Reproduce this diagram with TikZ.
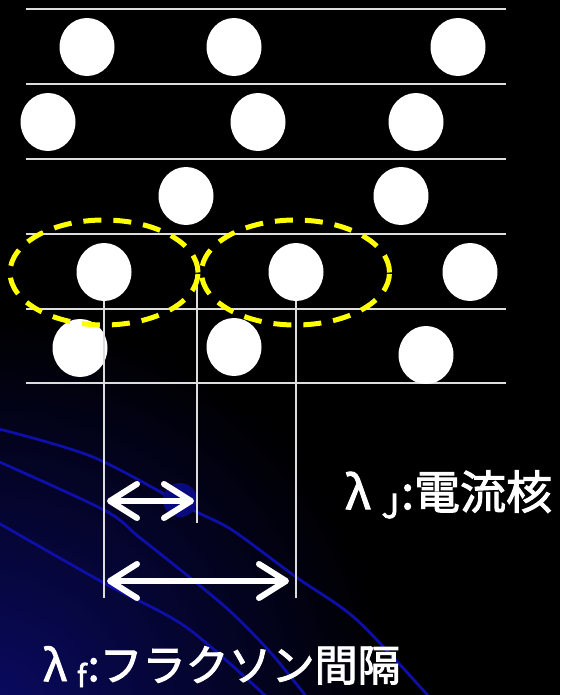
\documentclass[tikz,border=0pt]{standalone}
\usepackage{fontspec}
\usetikzlibrary{shapes.geometric,arrows.meta}
\newfontfamily\cjk{Noto Sans CJK JP}[RawFeature={embolden=2.2}]
\definecolor{curveblue}{HTML}{0E0EA8}
\definecolor{navy}{HTML}{0A0A64}
\definecolor{blob}{HTML}{0A0A80}
\definecolor{lineg}{HTML}{DDDDDD}
\definecolor{dashy}{HTML}{FFFF00}
\tikzset{
  grain/.style={ellipse, fill=white, minimum width=55pt, minimum height=58pt, inner sep=0pt},
  hline/.style={lineg, line width=1.6pt},
  vline/.style={lineg, line width=1.3pt},
  fluxoid/.style={ellipse, draw=dashy, line width=5pt, dash pattern=on 18pt off 12pt, minimum width=188pt, minimum height=105pt, inner sep=0pt},
  dimarrow/.style={white, line width=6pt, line cap=round, {Straight Barb[length=27pt,width=34pt,line cap=round,line join=round]}-{Straight Barb[length=27pt,width=34pt,line cap=round,line join=round]}},
  bgcurve/.style={curveblue, line width=2.8pt},
  lab/.style={text=white, anchor=base west, inner sep=0pt, font=\cjk}
}
\begin{document}
\begin{tikzpicture}[x=1pt,y=-1pt]
\fill[black] (0,0) rectangle (560,695);
\useasboundingbox (0,0) rectangle (560,695);
\begin{scope}
\clip (0,0) rectangle (560,695);
\shade[inner color=navy, outer color=black] (-10,715) circle (400);
\draw[bgcurve] plot[smooth] coordinates {(-5,428) (93,457) (193,510) (232,530) (296,577) (357,620) (432,700)};
\draw[bgcurve] plot[smooth] coordinates {(-5,460) (104,510) (139,537) (193,580) (232,613) (271,653) (309,700)};
\draw[bgcurve] plot[smooth] coordinates {(-5,521) (104,583) (186,627) (270,700)};
\fill[blob] (180,500) circle (17);
\end{scope}
% horizontal lines
\foreach \y [count=\i] in {9,84,159,234,309,383} {
  \coordinate (hl\i) at (26,\y);
  \coordinate (hr\i) at (506,\y);
  \draw[hline] (hl\i) -- (hr\i);
}
% grains
\node[grain] (c11) at (87,47) {};
\node[grain] (c12) at (234,47) {};
\node[grain] (c13) at (458,47) {};
\node[grain] (c21) at (48,122) {};
\node[grain] (c22) at (258,122) {};
\node[grain] (c23) at (416,122) {};
\node[grain] (c31) at (186,196) {};
\node[grain] (c32) at (401,196) {};
\node[grain] (c41) at (104,272) {};
\node[grain] (c42) at (296,272) {};
\node[grain] (c43) at (470,272) {};
\node[grain] (c51) at (80,348) {};
\node[grain] (c52) at (234,347) {};
\node[grain] (c53) at (426,355) {};
% vertical lines
\coordinate (vb1) at (104,598);
\coordinate (vt2) at (197,282);
\coordinate (vb2) at (197,523);
\coordinate (vb3) at (296,598);
\draw[vline] (c41.south) -- (vb1);
\draw[vline] (vt2) -- (vb2);
\draw[vline] (c42.south) -- (vb3);
% fluxoids
\node[fluxoid] (f1) at (104,272.5) {};
\node[fluxoid] (f2) at (295.5,272.5) {};
% arrows
\coordinate (a1l) at (107,501);
\coordinate (a1r) at (194,501);
\coordinate (a2l) at (107,581);
\coordinate (a2r) at (289,581);
\draw[dimarrow] (a1l) -- (a1r);
\draw[dimarrow] (a2l) -- (a2r);
% labels
\node[lab] (lj) at (345,509) {\fontsize{46}{54}\selectfont λ\hspace{11pt}\raisebox{-9pt}{\fontsize{33}{34}\selectfont J}\hspace{2pt}:電流核};
\node[lab] (lf) at (43,681) {\fontsize{43}{52}\selectfont λ\hspace{10pt}\raisebox{-6pt}{\fontsize{30}{32}\selectfont f}\hspace{1pt}:フラクソン間隔};
\end{tikzpicture}
\end{document}
